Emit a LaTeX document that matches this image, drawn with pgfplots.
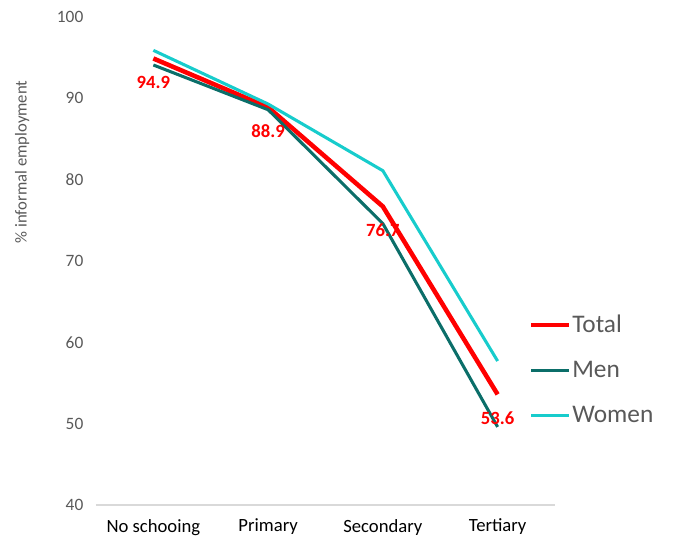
\documentclass[border=0pt]{standalone}
\usepackage{pgfplots}
\pgfplotsset{compat=1.18}
\usepackage{fontspec}
\setmainfont{Carlito}

\definecolor{totalred}{HTML}{FF0000}
\definecolor{menteal}{HTML}{0B6E69}
\definecolor{womencyan}{HTML}{17CCCC}
\definecolor{txtgray}{HTML}{595959}
\definecolor{axgray}{HTML}{D9D9D9}

\begin{document}
\begin{tikzpicture}
\useasboundingbox (-72pt,-26.25pt) rectangle (434.25pt,378.75pt);
\begin{axis}[
    at={(0pt,0pt)}, anchor=south west,
    scale only axis,
    width=344.25pt, height=366pt,
    xmin=-0.5, xmax=3.5,
    ymin=40, ymax=100,
    ytick={40,50,...,100},
    xtick={0,1,2,3},
    xticklabels={No schooing,Primary,Secondary,Tertiary},
    axis lines*=left,
    y axis line style={draw=none},
    x axis line style={draw=axgray, line width=1pt},
    tick style={draw=none},
    yticklabel style={font=\fontsize{13}{15}\selectfont, text=txtgray, xshift=-6pt},
    xticklabel style={font=\fontsize{14}{16}\selectfont, text=black, yshift=-7pt},
    /pgf/number format/assume math mode=true,
    ylabel={\% informal employment},
    every axis y label/.style={at={(axis description cs:-0.161,0.703)}, rotate=90, anchor=center,
        font=\fontsize{12.5}{14}\selectfont, text=txtgray},
    legend style={at={(axis description cs:0.943,0.2766)}, anchor=west,
        draw=none, fill=none, font=\fontsize{19}{22}\selectfont, text=txtgray,
        row sep=16pt, inner sep=0pt,
        nodes={inner xsep=1pt}},
    legend cell align=left,
    legend image code/.code={\draw[#1] (0pt,0pt) -- (28pt,0pt);},
    clip=false,
]
\addplot[totalred, line width=3.4pt] coordinates {(0,94.9) (1,88.9) (2,76.7) (3,53.6)};
\addlegendentry{Total}
\addplot[menteal, line width=2.3pt] coordinates {(0,94.1) (1,88.6) (2,74.6) (3,49.6)};
\addlegendentry{Men}
\addplot[womencyan, line width=2.3pt] coordinates {(0,95.9) (1,89.3) (2,81.1) (3,57.7)};
\addlegendentry{Women}
\addplot[draw=none, forget plot,
    nodes near coords,
    point meta=explicit symbolic,
    every node near coord/.append style={anchor=center, yshift=-18pt,
        font=\fontsize{14}{16}\selectfont\bfseries, text=totalred}]
    coordinates {(0,94.9) [94.9] (1,88.9) [88.9] (2,76.7) [76.7] (3,53.6) [53.6]};
\end{axis}
\end{tikzpicture}
\end{document}
